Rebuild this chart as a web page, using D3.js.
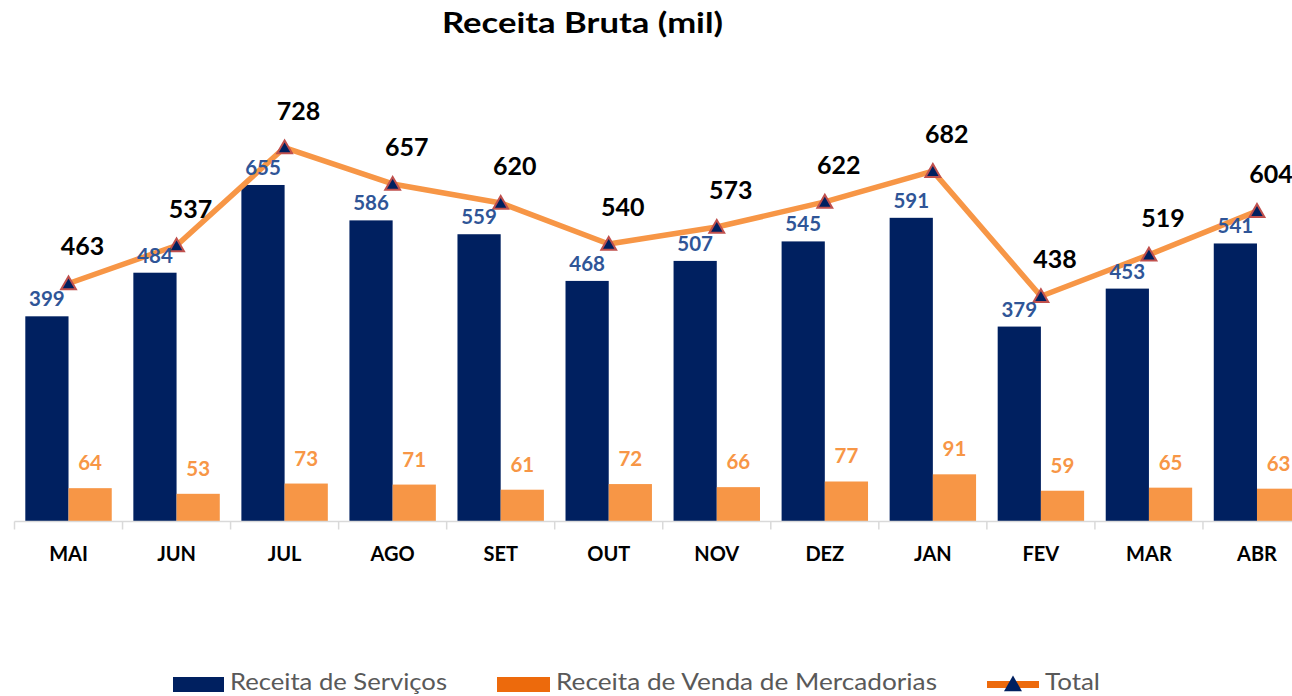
<!DOCTYPE html>
<html>
<head>
<meta charset="utf-8">
<script src="https://cdn.jsdelivr.net/npm/d3@7"></script>
<style>
  html, body { margin: 0; padding: 0; background: #ffffff; }
  svg { display: block; font-family: Lato, "Open Sans", sans-serif; }
</style>
</head>
<body>
<svg id="chart" width="1292" height="696"></svg>
<script>
const months = ["MAI","JUN","JUL","AGO","SET","OUT","NOV","DEZ","JAN","FEV","MAR","ABR"];
const servicos = [399,484,655,586,559,468,507,545,591,379,453,541];
const mercadorias = [64,53,73,71,61,72,66,77,91,59,65,63];
const totals = [463,537,728,657,620,540,573,622,682,438,519,604];
const seriesNames = ["Receita de Serviços","Receita de Venda de Mercadorias","Total"];
const titleText = "Receita Bruta (mil)";

const NAVY = "#002060", ORANGE = "#F79646", LEG_ORANGE = "#ED6A0C", LINE = "#F79646";

const svg = d3.select("#chart");

const x = d3.scaleBand().domain(months).range([14.5, 1311]).paddingInner(0).paddingOuter(0);
const xs = d3.scaleBand().domain(["s","m"]).range([0, x.bandwidth()]).paddingInner(0).paddingOuter(0.25);
const y = d3.scaleLinear().domain([0, 800]).range([521, 110.6]);

// title
svg.append("text").attr("x", 442).attr("y", 33)
  .attr("font-size", 28).attr("font-weight", 700).attr("fill","#000")
  .attr("textLength", 281).attr("lengthAdjust","spacingAndGlyphs").text(titleText);

const data = months.map((m,i)=>({m, s: servicos[i], v: mercadorias[i], t: totals[i]}));

// bars
const g = svg.append("g");
g.selectAll("rect.s").data(data).join("rect").attr("class","s")
  .attr("x", d => x(d.m) + xs("s")).attr("width", xs.bandwidth())
  .attr("y", d => y(d.s)).attr("height", d => y(0) - y(d.s)).attr("fill", NAVY);
g.selectAll("rect.m").data(data).join("rect").attr("class","m")
  .attr("x", d => x(d.m) + xs("m")).attr("width", xs.bandwidth())
  .attr("y", d => y(d.v)).attr("height", d => y(0) - y(d.v)).attr("fill", ORANGE);

// axis
const axisY = 521.5;
svg.append("line").attr("x1", 14.5).attr("x2", 1311).attr("y1", axisY).attr("y2", axisY)
  .attr("stroke","#D9D9D9").attr("stroke-width",1.5);
const bounds = months.map(m => x(m)).concat([x.range()[1]]);
svg.selectAll("line.tick").data(bounds).join("line").attr("class","tick")
  .attr("x1", d=>d).attr("x2", d=>d).attr("y1", axisY).attr("y2", axisY+8)
  .attr("stroke","#D9D9D9").attr("stroke-width",1.5);
svg.selectAll("text.xl").data(months).join("text").attr("class","xl")
  .attr("x", d => x(d) + x.bandwidth()/2).attr("y", 560.5).attr("text-anchor","middle")
  .attr("font-size", 20).attr("font-weight",700).attr("fill","#000").text(d=>d);

// line
const cx = d => x(d.m) + x.bandwidth()/2;
const line = d3.line().x(cx).y(d => y(d.t));
svg.append("path").datum(data).attr("d", line).attr("fill","none")
  .attr("stroke", LINE).attr("stroke-width", 5.5).attr("stroke-linejoin","round");

// markers
const tri = d3.symbol().type(d3.symbolTriangle).size(95);
svg.selectAll("path.mk").data(data).join("path").attr("class","mk")
  .attr("d", tri).attr("transform", d => `translate(${cx(d)},${y(d.t)+1.5})`)
  .attr("fill", NAVY).attr("stroke","#C0504D").attr("stroke-width",2);

// labels
svg.selectAll("text.ls").data(data).join("text").attr("class","ls")
  .attr("x", d => x(d.m) + xs("s") + xs.bandwidth()/2).attr("y", d => y(d.s) - 10)
  .attr("text-anchor","middle").attr("font-size",20.5).attr("font-weight",700).attr("fill","#2F5597")
  .text(d=>d.s);
svg.selectAll("text.lm").data(data).join("text").attr("class","lm")
  .attr("x", d => x(d.m) + xs("m") + xs.bandwidth()/2).attr("y", d => y(d.v) - 18)
  .attr("text-anchor","middle").attr("font-size",20.5).attr("font-weight",700).attr("fill",ORANGE)
  .text(d=>d.v);
svg.selectAll("text.lt").data(data).join("text").attr("class","lt")
  .attr("x", d => cx(d) + 14).attr("y", d => y(d.t) - 28)
  .attr("text-anchor","middle").attr("font-size",25).attr("font-weight",700).attr("fill","#000")
  .text(d=>d.t);

// legend
const lg = svg.append("g");
const legY = 684.5;
const textY = 690;
lg.append("rect").attr("x",173).attr("y",677).attr("width",51).attr("height",15).attr("fill",NAVY);
lg.append("text").attr("x",230).attr("y",textY).attr("font-size",23).attr("fill","#595959")
  .attr("textLength",217).attr("lengthAdjust","spacingAndGlyphs").text(seriesNames[0]);
lg.append("rect").attr("x",497).attr("y",677).attr("width",53).attr("height",15).attr("fill",LEG_ORANGE);
lg.append("text").attr("x",556).attr("y",textY).attr("font-size",23).attr("fill","#595959")
  .attr("textLength",381).attr("lengthAdjust","spacingAndGlyphs").text(seriesNames[1]);
lg.append("line").attr("x1",987).attr("x2",1039).attr("y1",legY).attr("y2",legY)
  .attr("stroke",LEG_ORANGE).attr("stroke-width",7);
lg.append("path").attr("d", d3.symbol().type(d3.symbolTriangle).size(140))
  .attr("transform",`translate(1013,${legY+1.5})`).attr("fill",NAVY);
lg.append("text").attr("x",1045).attr("y",textY).attr("font-size",23).attr("fill","#595959")
  .attr("textLength",55).attr("lengthAdjust","spacingAndGlyphs").text(seriesNames[2]);
</script>
</body>
</html>
